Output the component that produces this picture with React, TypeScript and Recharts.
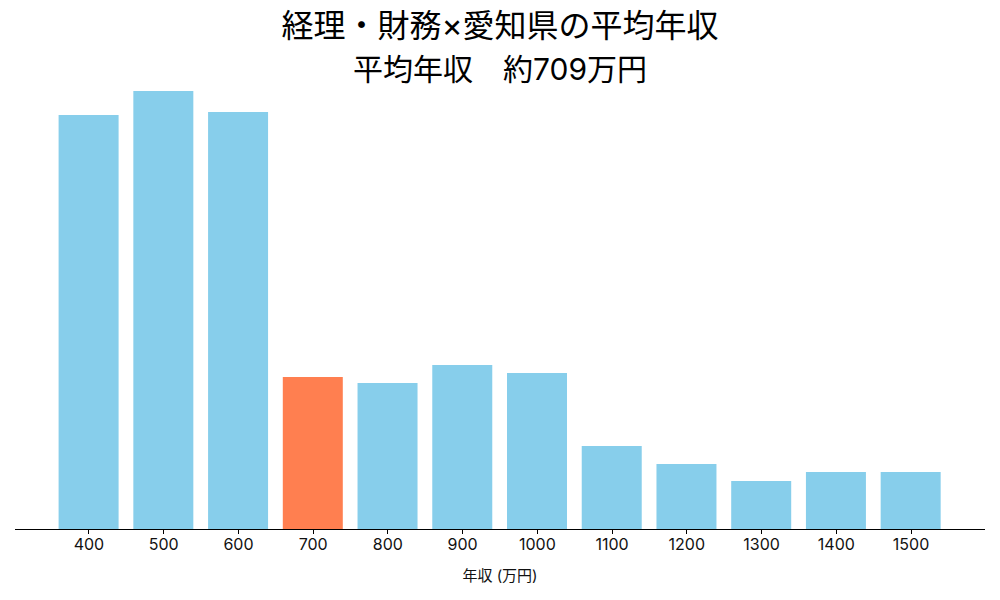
import React from 'react';
import { BarChart, Bar, Cell, XAxis, YAxis } from 'recharts';

const CATEGORIES = ['400', '500', '600', '700', '800', '900', '1000', '1100', '1200', '1300', '1400', '1500'];
const VALUES = [414, 438, 417, 152, 146, 164, 156, 83, 65, 48, 57, 57];
const HIGHLIGHT = '700';
const TITLE = '経理・財務×愛知県の平均年収';
const SUBTITLE = '平均年収　約709万円';
const X_LABEL = '年収 (万円)';

const FONT = "Inter, 'Noto Sans CJK JP', 'Noto Sans', sans-serif";

const data = CATEGORIES.map((name, i) => ({ name, value: VALUES[i] }));

export default function App() {
  return (
    <div
      style={{
        position: 'absolute',
        left: 0,
        top: 0,
        width: 1000,
        height: 600,
        background: '#fff',
        fontFamily: FONT,
        color: '#000',
      }}
    >
      <div style={{ position: 'absolute', left: 0, top: 10, width: 1000, textAlign: 'center', fontSize: 32, lineHeight: '32px' }}>
        {TITLE}
      </div>
      <div style={{ position: 'absolute', left: 0, top: 54, width: 1000, textAlign: 'center', fontSize: 30, lineHeight: '30px' }}>
        {SUBTITLE}
      </div>
      <BarChart
        width={1000}
        height={600}
        data={data}
        margin={{ top: 69, right: 15, bottom: 0, left: 15 }}
        barSize={60}
      >
        <XAxis
          dataKey="name"
          height={71}
          padding={{ left: 36.6, right: 36.6 }}
          axisLine={{ stroke: '#000', strokeWidth: 1, shapeRendering: 'crispEdges' }}
          tickLine={{ stroke: '#000', shapeRendering: 'crispEdges' }}
          tickSize={5}
          tickMargin={5}
          interval={0}
          tick={{ fill: '#111', fontSize: 16, fontFamily: FONT }}
        />
        <YAxis hide domain={[0, 460]} />
        <Bar dataKey="value" isAnimationActive={false}>
          {data.map((d) => (
            <Cell key={d.name} fill={d.name === HIGHLIGHT ? '#FF7F50' : '#87CEEB'} />
          ))}
        </Bar>
      </BarChart>
      <div style={{ position: 'absolute', left: 0, top: 567, width: 1000, textAlign: 'center', fontSize: 15, lineHeight: '17px', color: '#111' }}>
        {X_LABEL}
      </div>
    </div>
  );
}
